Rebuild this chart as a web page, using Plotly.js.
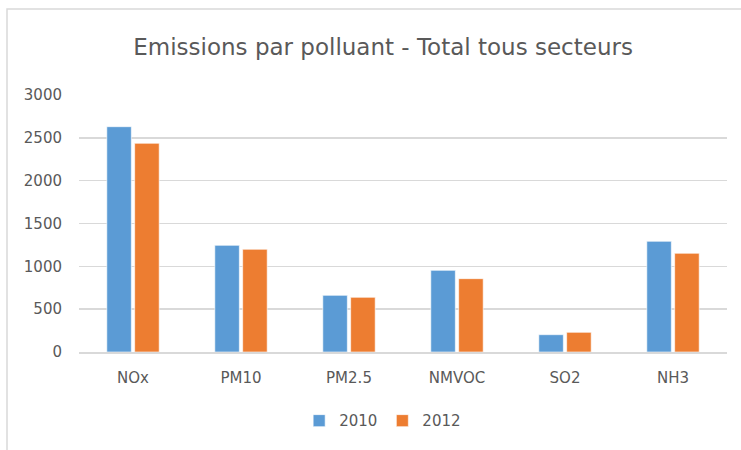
<!DOCTYPE html>
<html>
<head>
<meta charset="utf-8">
<script src="https://cdn.plot.ly/plotly-3.0.1.min.js"></script>
<style>html,body{margin:0;padding:0;background:#fff;}#chart{width:741px;height:450px;}</style>
</head>
<body>
<div id="chart"></div>
<script>
const categories = ["NOx", "PM10", "PM2.5", "NMVOC", "SO2", "NH3"];
const values2010 = [2630, 1245, 661, 953, 202, 1292];
const values2012 = [2436, 1199, 638, 856, 230, 1152];
const seriesNames = ["2010", "2012"];
const yTicks = [0, 500, 1000, 1500, 2000, 2500, 3000];
const titleText = "Emissions par polluant - Total tous secteurs";

const FONT = "DejaVu Sans";
const traces = [
  {type: "bar", name: seriesNames[0], x: categories, y: values2010,
   marker: {color: "#5B9BD5", line: {color: "rgba(255,255,255,0.6)", width: 1}}},
  {type: "bar", name: seriesNames[1], x: categories, y: values2012,
   marker: {color: "#ED7D31", line: {color: "rgba(255,255,255,0.6)", width: 1}}}
];
const layout = {
  width: 741, height: 450,
  margin: {l: 79, r: 14, t: 95, b: 98},
  paper_bgcolor: "#fff", plot_bgcolor: "#fff",
  font: {family: FONT, color: "#595959", size: 15},
  title: {text: titleText, font: {family: FONT, size: 23, color: "#595959"},
          xref: "container", yref: "container", x: 0.517, xanchor: "center", y: 0.895, yanchor: "middle"},
  barmode: "group", bargap: 0.484, bargroupgap: 0.12,
  xaxis: {type: "category", showgrid: false, showline: true, linecolor: "#D9D9D9", linewidth: 1.5,
          ticks: "", ticklabelstandoff: 11, tickfont: {size: 15, color: "#595959"}},
  yaxis: {range: [0, 3000], tickvals: yTicks, showgrid: true, gridcolor: "#D9D9D9", gridwidth: 1.5,
          zeroline: false, showline: false, ticks: "", ticklabelstandoff: 16,
          tickfont: {size: 15, color: "#595959"}},
  showlegend: true,
  legend: {orientation: "h", x: 0.4686, xanchor: "center", y: -0.268, yanchor: "middle",
           font: {size: 15, color: "#595959"}, itemwidth: 30, traceorder: "normal"},
  shapes: [{type: "rect", xref: "paper", yref: "paper", x0: -0.1111, x1: 1.03, y0: -0.41, y1: 1.3346,
            line: {color: "#D9D9D9", width: 1.5}, fillcolor: "rgba(0,0,0,0)", layer: "below"}]
};
Plotly.newPlot("chart", traces, layout, {displayModeBar: false, staticPlot: true});
</script>
</body>
</html>
